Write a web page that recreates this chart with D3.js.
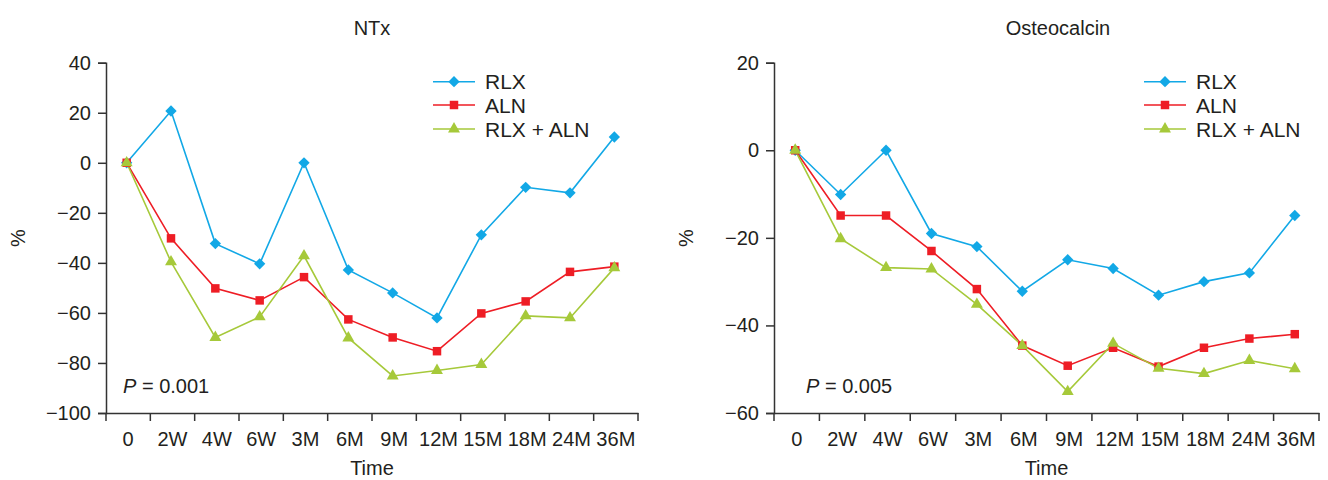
<!DOCTYPE html>
<html><head><meta charset="utf-8">
<script src="https://cdn.jsdelivr.net/npm/d3@7"></script>
<style>body{margin:0;background:#fff}svg{display:block}text{font-family:"Liberation Sans",Arial,sans-serif;fill:#231f20}</style>
</head><body><svg id="c" width="1328" height="480"></svg>
<script>
const categories = ["0","2W","4W","6W","3M","6M","9M","12M","15M","18M","24M","36M"];
const seriesNames = ["RLX","ALN","RLX + ALN"];
const ntxRLX = [0, 20.7, -32.3, -40.4, 0, -42.8, -52, -62, -28.8, -9.8, -12, 10.3];
const ntxALN = [0, -30.2, -50.2, -55, -45.7, -62.6, -69.8, -75.3, -60.2, -55.4, -43.6, -41.5];
const ntxCombo = [0, -39.6, -69.8, -61.6, -37.2, -70, -85.2, -83, -80.6, -61.2, -62, -42];
const ostRLX = [0, -10.1, 0, -19, -22, -32.2, -25, -27, -33.1, -30, -28, -14.9];
const ostALN = [0, -14.9, -14.9, -23, -31.7, -44.6, -49.2, -45.1, -49.4, -45.1, -43, -42];
const ostCombo = [0, -20.2, -26.8, -27.1, -35.2, -44.6, -55.1, -44.1, -49.8, -51, -48, -49.9];
const ntxTicks = [40, 20, 0, -20, -40, -60, -80, -100];
const ostTicks = [20, 0, -20, -40, -60];

const colors = ["#12a8e6", "#ee1d25", "#a6c93a"];
const shapes = ["diamond", "square", "triangle"];
const FF = '"Liberation Sans",Arial,sans-serif';
const svg = d3.select("#c");

function marker(g, shape, x, y, color) {
  if (shape === "diamond") {
    g.append("path").attr("d", d3.symbol(d3.symbolSquare, 64)())
      .attr("transform", `translate(${x},${y}) rotate(45)`).attr("fill", color);
  } else if (shape === "square") {
    g.append("path").attr("d", d3.symbol(d3.symbolSquare, 72)())
      .attr("transform", `translate(${x},${y})`).attr("fill", color);
  } else {
    g.append("path").attr("d", d3.symbol(d3.symbolTriangle, 62)())
      .attr("transform", `translate(${x},${y})`).attr("fill", color);
  }
}

function panel(opt) {
  const g = svg.append("g");
  const x = d3.scaleBand().domain(categories).range([opt.x0, opt.x1]);
  const y = d3.scaleLinear().domain(opt.domain).range([413, 62.7]);
  const ax = "#333";

  // y axis
  const ya = g.append("g").attr("transform", `translate(${opt.x0},0)`)
    .call(d3.axisLeft(y).tickValues(opt.ticks).tickSize(8).tickPadding(7).tickFormat(d3.format("d")));
  ya.select(".domain").attr("stroke", ax).attr("stroke-width", 1.5);
  ya.selectAll(".tick line").attr("stroke", ax).attr("stroke-width", 1.5);
  ya.selectAll(".tick text").attr("font-size", 20).style("font-family", FF).attr("fill", "#231f20");

  // x axis
  const xa = g.append("g").attr("transform", "translate(0,413)")
    .call(d3.axisBottom(x).tickSize(0).tickPadding(19));
  xa.select(".domain").attr("stroke", ax).attr("stroke-width", 1.5);
  xa.selectAll(".tick text").attr("font-size", 20).attr("textLength", d => d.length > 2 ? 39 : null)
    .attr("lengthAdjust", "spacingAndGlyphs")
    .style("font-family", FF).attr("fill", "#231f20");
  const bounds = categories.map(c => x(c)).concat([x.range()[1]]);
  g.selectAll(".xb").data(bounds).join("line")
    .attr("x1", d => d).attr("x2", d => d).attr("y1", 413).attr("y2", 421)
    .attr("stroke", ax).attr("stroke-width", 1.5);

  const cx = c => x(c) + x.bandwidth() / 2 - 1.5;
  const line = d3.line().x((d, i) => cx(categories[i])).y(d => y(d));
  opt.series.forEach((s, k) => {
    g.append("path").datum(s).attr("d", line).attr("fill", "none")
      .attr("stroke", colors[k]).attr("stroke-width", 1.6);
  });
  opt.series.forEach((s, k) => {
    s.forEach((v, i) => marker(g, shapes[k], cx(categories[i]), y(v), colors[k]));
  });

  // titles
  g.append("text").attr("x", opt.titleX).attr("y", 35).attr("text-anchor", "middle")
    .attr("font-size", 20).text(opt.title);
  g.append("text").attr("x", (opt.x0 + opt.x1) / 2).attr("y", 475).attr("text-anchor", "middle")
    .attr("font-size", 20).text("Time");
  g.append("text").attr("transform", `translate(${opt.x0 - 81},238) rotate(-90)`)
    .attr("text-anchor", "middle").attr("font-size", 20).text("%");

  // P value
  const p = g.append("text").attr("x", opt.pX).attr("y", 393).attr("font-size", 20);
  p.append("tspan").attr("font-style", "italic").text("P");
  p.append("tspan").text(" = " + opt.p);

  // legend
  const rows = [81.7, 105, 129];
  seriesNames.forEach((n, k) => {
    g.append("line").attr("x1", opt.lx).attr("x2", opt.lx + 42).attr("y1", rows[k]).attr("y2", rows[k])
      .attr("stroke", colors[k]).attr("stroke-width", 1.6);
    marker(g, shapes[k], opt.lx + 21, rows[k], colors[k]);
    g.append("text").attr("x", opt.lx + 52).attr("y", rows[k] + 7.5).attr("font-size", 21).text(n);
  });
}

panel({x0: 106, x1: 638, domain: [-100, 40], ticks: ntxTicks, series: [ntxRLX, ntxALN, ntxCombo],
  title: "NTx", titleX: 372, pX: 123, p: "0.001", lx: 433});
panel({x0: 774, x1: 1319, domain: [-60, 20], ticks: ostTicks, series: [ostRLX, ostALN, ostCombo],
  title: "Osteocalcin", titleX: 1058, pX: 806, p: "0.005", lx: 1144});
</script></body></html>
